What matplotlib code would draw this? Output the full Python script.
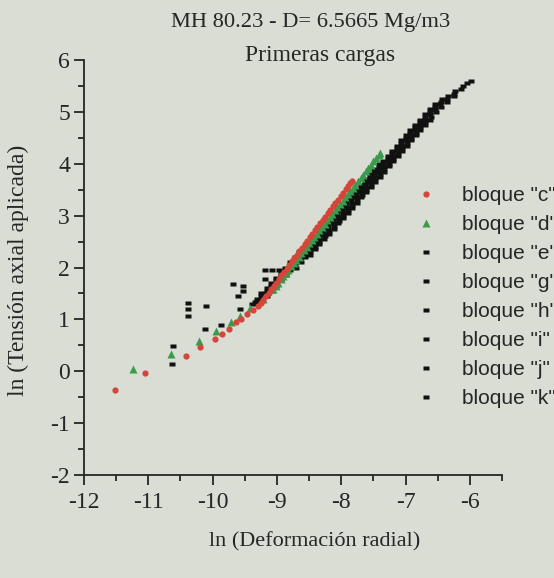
import matplotlib
matplotlib.use("Agg")
import matplotlib.pyplot as plt
from matplotlib.markers import MarkerStyle
from matplotlib.transforms import Affine2D

# ---- datos: ln(deformacion radial), ln(tension axial) ----
c_x = [-11.52, -11.05, -10.42, -10.19, -9.97, -9.85, -9.74, -9.64, -9.56, -9.46, -9.37, -9.29,
       -9.25, -9.21, -9.17, -9.13, -9.09, -9.05, -9.01, -8.97, -8.93, -8.89, -8.85, -8.81,
       -8.77, -8.73, -8.69, -8.65, -8.61, -8.57, -8.53, -8.49, -8.45, -8.41, -8.37, -8.33,
       -8.29, -8.25, -8.21, -8.17, -8.13, -8.09, -8.05, -8.01, -7.97, -7.93, -7.89, -7.86, -7.84]
c_y = [-0.37, -0.04, 0.29, 0.46, 0.62, 0.72, 0.82, 0.94, 1.00, 1.10, 1.19, 1.26,
       1.32, 1.38, 1.45, 1.51, 1.58, 1.65, 1.71, 1.78, 1.85, 1.91, 1.98, 2.05,
       2.12, 2.18, 2.25, 2.32, 2.38, 2.45, 2.52, 2.58, 2.65, 2.72, 2.78, 2.85,
       2.91, 2.98, 3.05, 3.11, 3.18, 3.25, 3.31, 3.38, 3.44, 3.51, 3.58, 3.63, 3.66]

d_x = [-11.24, -10.65, -10.21, -9.94, -9.71, -9.57, -9.42, -9.21, -9.06,
       -9.02, -8.98, -8.94, -8.90, -8.86, -8.82, -8.78, -8.74, -8.70, -8.66, -8.62,
       -8.58, -8.54, -8.50, -8.46, -8.42, -8.38, -8.34, -8.30, -8.26, -8.22, -8.18,
       -8.14, -8.10, -8.06, -8.02, -7.98, -7.94, -7.90, -7.86, -7.82, -7.78, -7.74,
       -7.70, -7.66, -7.62, -7.58, -7.54, -7.50, -7.46, -7.42, -7.40]
d_y = [0.04, 0.34, 0.58, 0.78, 0.95, 1.06, 1.21, 1.40, 1.58,
       1.64, 1.71, 1.77, 1.83, 1.90, 1.96, 2.02, 2.09, 2.15, 2.21, 2.28,
       2.34, 2.40, 2.47, 2.53, 2.59, 2.65, 2.72, 2.78, 2.84, 2.91, 2.97,
       3.03, 3.10, 3.16, 3.22, 3.29, 3.35, 3.41, 3.48, 3.54, 3.60, 3.67,
       3.73, 3.79, 3.86, 3.92, 3.98, 4.05, 4.11, 4.17, 4.21]

e_x = [-10.61, -10.63, -10.39, -10.39, -10.39, -10.11, -10.12,
       -9.38, -9.31, -9.24, -9.16, -9.09, -9.01, -8.94, -8.87, -8.79, -8.72, -8.65, -8.57,
       -8.50, -8.42, -8.35, -8.28, -8.20, -8.13, -8.06, -7.99, -7.92, -7.84, -7.77, -7.70,
       -7.63, -7.56, -7.49, -7.42]
e_y = [0.48, 0.14, 1.31, 1.20, 1.06, 1.26, 0.82,
       1.30, 1.40, 1.50, 1.60, 1.70, 1.80, 1.90, 2.00, 2.10, 2.20, 2.30, 2.40,
       2.50, 2.60, 2.70, 2.80, 2.90, 3.00, 3.10, 3.20, 3.30, 3.40, 3.50, 3.60,
       3.70, 3.80, 3.90, 4.00]

g_x = [-9.87, -9.68, -9.52, -9.52, -9.61, -9.57,
       -9.31, -9.24, -9.17, -9.09, -9.02, -8.94, -8.87, -8.80, -8.72, -8.65, -8.58, -8.50,
       -8.43, -8.35, -8.28, -8.21, -8.13, -8.06, -7.99, -7.92, -7.85, -7.77, -7.70, -7.63,
       -7.56, -7.49, -7.42, -7.35, -7.28, -7.21, -7.14, -7.07, -7.00, -6.93, -6.86, -6.78,
       -6.70, -6.62, -6.54, -6.45, -6.34, -6.23, -6.10, -6.04, -5.98]
g_y = [0.90, 1.68, 1.64, 1.55, 1.45, 1.20,
       1.30, 1.40, 1.50, 1.60, 1.70, 1.80, 1.90, 2.00, 2.10, 2.20, 2.30, 2.40,
       2.50, 2.60, 2.70, 2.80, 2.90, 3.00, 3.10, 3.20, 3.30, 3.40, 3.50, 3.60,
       3.70, 3.80, 3.90, 4.00, 4.10, 4.20, 4.30, 4.40, 4.50, 4.60, 4.70, 4.80,
       4.90, 5.00, 5.10, 5.20, 5.30, 5.40, 5.50, 5.55, 5.59]

h_x = [-9.18, -9.08, -8.97, -9.19, -9.23, -9.34,
       -9.16, -9.08, -9.01, -8.94, -8.86, -8.79, -8.72, -8.64, -8.57, -8.49, -8.42, -8.35,
       -8.27, -8.20, -8.13, -8.05, -7.98, -7.91, -7.84, -7.77, -7.69, -7.62, -7.55, -7.48,
       -7.41, -7.34, -7.27, -7.20, -7.13, -7.06, -6.99, -6.92, -6.85, -6.78, -6.70, -6.62,
       -6.54, -6.46, -6.35, -6.24, -6.13]
h_y = [1.95, 1.95, 1.95, 1.78, 1.46, 1.33,
       1.45, 1.55, 1.65, 1.75, 1.85, 1.95, 2.05, 2.15, 2.25, 2.35, 2.45, 2.55,
       2.65, 2.75, 2.85, 2.95, 3.05, 3.15, 3.25, 3.35, 3.45, 3.55, 3.65, 3.75,
       3.85, 3.95, 4.05, 4.15, 4.25, 4.35, 4.45, 4.55, 4.65, 4.75, 4.85, 4.95,
       5.05, 5.15, 5.25, 5.35, 5.45]

i_x = [-9.31, -9.24, -9.16, -9.09, -9.02, -8.94, -8.87, -8.80, -8.72, -8.65, -8.57, -8.50,
       -8.43, -8.35, -8.28, -8.21, -8.13, -8.06, -7.99, -7.92, -7.85, -7.77, -7.70, -7.63,
       -7.56, -7.49, -7.42, -7.35, -7.28, -7.21, -7.14, -7.07, -7.00, -6.93, -6.86, -6.78,
       -6.70, -6.62, -6.54, -6.43]
i_y = [1.35, 1.45, 1.55, 1.65, 1.75, 1.85, 1.95, 2.05, 2.15, 2.25, 2.35, 2.45,
       2.55, 2.65, 2.75, 2.85, 2.95, 3.05, 3.15, 3.25, 3.35, 3.45, 3.55, 3.65,
       3.75, 3.85, 3.95, 4.05, 4.15, 4.25, 4.35, 4.45, 4.55, 4.65, 4.75, 4.85,
       4.95, 5.05, 5.15, 5.25]

j_x = [-8.71, -8.63, -8.56, -8.49, -8.41, -8.34, -8.26, -8.19, -8.12, -8.04, -7.97, -7.90,
       -7.83, -7.76, -7.68, -7.61, -7.54, -7.47, -7.40, -7.33, -7.26, -7.19, -7.12, -7.05,
       -6.98, -6.91, -6.84, -6.77, -6.69, -6.61, -6.53, -6.45, -6.36, -6.25]
j_y = [2.00, 2.10, 2.20, 2.30, 2.40, 2.50, 2.60, 2.70, 2.80, 2.90, 3.00, 3.10,
       3.20, 3.30, 3.40, 3.50, 3.60, 3.70, 3.80, 3.90, 4.00, 4.10, 4.20, 4.30,
       4.40, 4.50, 4.60, 4.70, 4.80, 4.90, 5.00, 5.10, 5.20, 5.30]

k_x = [-8.49, -8.41, -8.34, -8.27, -8.19, -8.12, -8.05, -7.97, -7.90, -7.83, -7.76, -7.69,
       -7.61, -7.54, -7.47, -7.40, -7.33, -7.26, -7.19, -7.12, -7.05, -6.98, -6.91, -6.84,
       -6.77, -6.70, -6.62]
k_y = [2.25, 2.35, 2.45, 2.55, 2.65, 2.75, 2.85, 2.95, 3.05, 3.15, 3.25, 3.35,
       3.45, 3.55, 3.65, 3.75, 3.85, 3.95, 4.05, 4.15, 4.25, 4.35, 4.45, 4.55,
       4.65, 4.75, 4.85]

bloques_negros = [("e", e_x, e_y), ("g", g_x, g_y), ("h", h_x, h_y),
                  ("i", i_x, i_y), ("j", j_x, j_y), ("k", k_x, k_y)]

x_ticks = [-12, -11, -10, -9, -8, -7, -6]
y_ticks = [-2, -1, 0, 1, 2, 3, 4, 5, 6]

fondo = "#d9ddd3"
tinta = "#262626"
serif = "Liberation Serif"

plt.rcParams["axes.unicode_minus"] = False

fig = plt.figure(figsize=(5.54, 5.78), dpi=100, facecolor=fondo)
ax = fig.add_axes([84 / 554, 1 - 475 / 578, (502 - 84) / 554, (475 - 60) / 578])
ax.set_facecolor(fondo)

cuadro = MarkerStyle("s", transform=Affine2D().scale(1.3, 0.9))

ax.plot(c_x, c_y, "o", color="#d6453a", ms=4.5, mec="none", label='bloque "c"', zorder=4)
ax.plot(d_x, d_y, "^", color="#3a9a4e", ms=5.5, mec="none", label='bloque "d"', zorder=3)
for nombre, bx, by in bloques_negros:
    ax.plot(bx, by, linestyle="none", marker=cuadro, color="#111111", ms=3.3, mec="none",
            label=f'bloque "{nombre}"', zorder=2)

ax.set_xlim(-12, -5.5)
ax.set_ylim(-2, 6)
ax.set_xticks(x_ticks)
ax.set_yticks(y_ticks)
ax.set_xticks([v + 0.5 for v in x_ticks], minor=True)
ax.set_yticks([v + 0.5 for v in y_ticks[:-1]], minor=True)

for lado in ["top", "right"]:
    ax.spines[lado].set_visible(False)
for lado in ["left", "bottom"]:
    ax.spines[lado].set_color(tinta)
    ax.spines[lado].set_linewidth(1.3)

ax.tick_params(which="major", direction="out", length=7, width=1.3, color=tinta,
               labelsize=17, labelcolor=tinta)
ax.tick_params(axis="x", which="major", pad=5)
ax.tick_params(axis="y", which="major", pad=3)
ax.tick_params(which="minor", direction="out", length=4.5, width=1.3, color=tinta)
for lab in ax.get_xticklabels() + ax.get_yticklabels():
    lab.set_fontfamily(serif)

# titulos y etiquetas de ejes
fig.text(311 / 554, 1 - 22 / 578, "MH 80.23 - D= 6.5665 Mg/m3", ha="center", va="center",
         fontsize=16.2, family=serif, color=tinta)
fig.text(320 / 554, 1 - 56 / 578, "Primeras cargas", ha="center", va="center",
         fontsize=17, family=serif, color=tinta)
fig.text(315 / 554, 1 - 542 / 578, "ln (Deformación radial)", ha="center", va="center",
         fontsize=16, family=serif, color=tinta)
fig.text(18 / 554, 1 - 270 / 578, "ln (Tensión axial aplicada)", ha="center", va="center",
         rotation=90, fontsize=17, family=serif, color=tinta)

ax.legend(loc="upper left", bbox_to_anchor=(416 / 554, 1 - 186 / 578),
          bbox_transform=fig.transFigure, frameon=False, handlelength=1.0,
          handletextpad=1.2, labelspacing=0.48, borderpad=0, borderaxespad=0,
          prop={"family": "Liberation Sans", "size": 15}, labelcolor=tinta)

fig.savefig("out.png", dpi=100, facecolor=fondo)
